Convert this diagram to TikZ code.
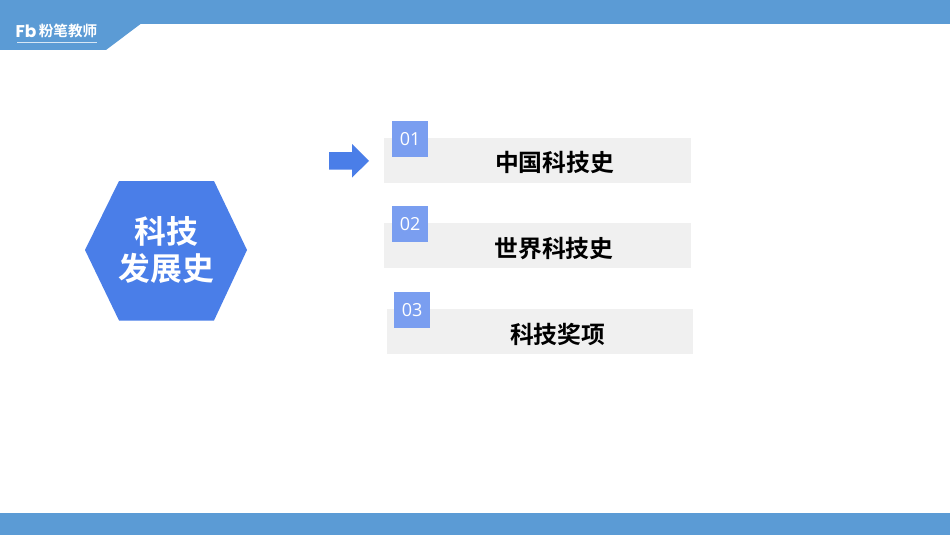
\documentclass[tikz,border=0pt]{standalone}
\usepackage{fontspec}
\setmainfont{Open Sans}
\newfontfamily\cjk{Noto Sans CJK SC}
\newfontfamily\cjkb{Noto Sans CJK SC Bold}
\newfontfamily\logofont{Poppins}
\definecolor{band}{HTML}{5B9BD5}
\definecolor{hexblue}{HTML}{4A7EE8}
\definecolor{numblue}{HTML}{7A9EF0}
\definecolor{barg}{HTML}{F0F0F0}
\tikzset{
  x=1pt,y=-1pt,
  barbox/.style={fill=barg,draw=none,minimum width=306.5pt,minimum height=44.5pt,inner sep=0pt,anchor=north west},
  numbox/.style={fill=numblue,draw=none,minimum width=36pt,minimum height=36pt,inner sep=0pt,anchor=north west,text=white,font=\fontsize{18}{18}\selectfont},
  bartext/.style={inner sep=0pt,font=\cjkb\fontsize{23.8}{23.8}\selectfont,text=black},
  hextext/.style={inner sep=0pt,align=center,text=white,font=\cjkb\fontsize{31.8}{37}\selectfont},
}
\begin{document}
\begin{tikzpicture}
\useasboundingbox (0,0) rectangle (950,535);
\fill[white] (0,0) rectangle (950,535);
\fill[band] (0,0) -- (950,0) -- (950,24) -- (140.5,24) -- (106,50) -- (0,50) -- cycle;
\fill[band] (0,513) rectangle (950,535);
\node[inner sep=0pt,anchor=center,text=white,font=\logofont\bfseries\fontsize{17}{17}\selectfont] (fb) at (26,31) {Fb};
\node[inner sep=0pt,anchor=center,text=white,font=\cjkb\fontsize{14.6}{15}\selectfont] (brand) at (68,31) {粉笔教师};
\draw[white!75!band,line width=0.8pt] (17,42.3) -- (97,42.3);
\fill[hexblue] (85,250) -- (119,181) -- (214,181) -- (247,250) -- (214,320.5) -- (119,320.5) -- cycle;
\node[hextext] (title) at (166.5,250.5) {科技\\发展史};
\fill[hexblue] (329,152) -- (352,152) -- (352,144) -- (369,161) -- (352,177.5) -- (352,169.5) -- (329,169.5) -- cycle;
\node[barbox] (b1) at (384,138) {};
\node[barbox] (b2) at (384,223) {};
\node[barbox] (b3) at (386.5,309) {};
\node[numbox] (n1) at (392,121) {01};
\node[numbox] (n2) at (392,206) {02};
\node[numbox] (n3) at (394,292) {03};
\node[bartext] (t1) at (554.5,162.7) {中国科技史};
\node[bartext] (t2) at (554,248.2) {世界科技史};
\node[bartext] (t3) at (557.7,334.2) {科技奖项};
\end{tikzpicture}
\end{document}
